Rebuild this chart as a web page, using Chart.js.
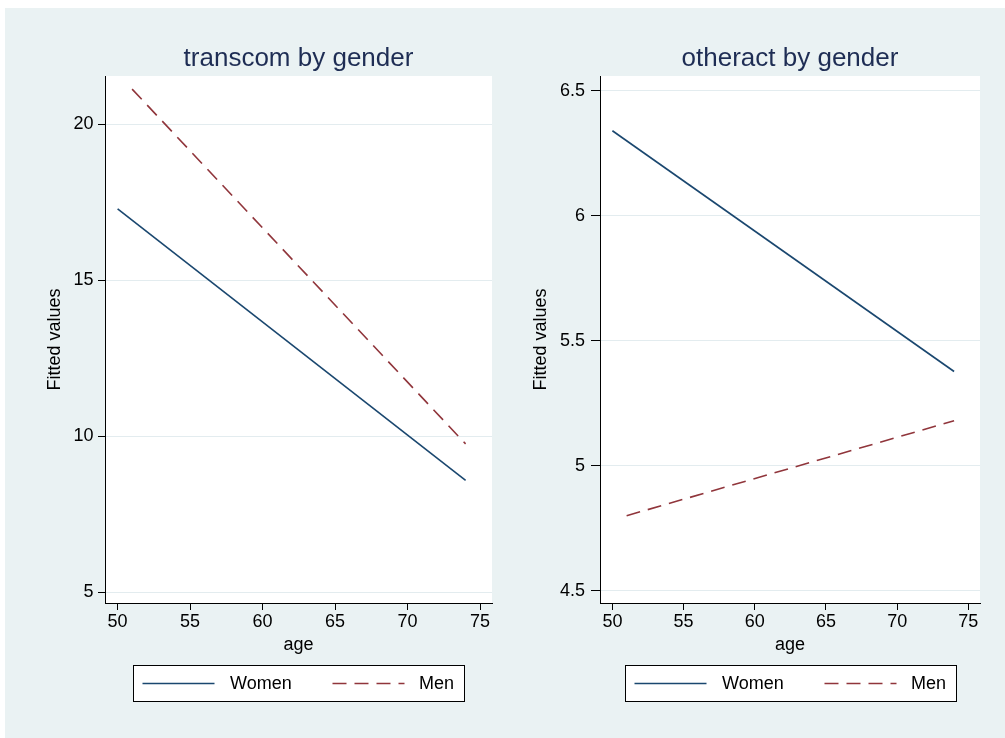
<!DOCTYPE html>
<html>
<head>
<meta charset="utf-8">
<script src="https://cdn.jsdelivr.net/npm/chart.js@4.4.1/dist/chart.umd.min.js"></script>
<style>
html,body{margin:0;padding:0;background:#ffffff;width:1005px;height:738px;overflow:hidden;}
#bg{position:absolute;left:5px;top:8px;width:1000px;height:730px;background:#eaf2f3;}
canvas{position:absolute;top:8px;}
#c1{left:5px;}
#c2{left:500px;}
</style>
</head>
<body>
<div id="bg"></div>
<canvas id="c1" width="495" height="730"></canvas>
<canvas id="c2" width="505" height="730"></canvas>
<script>
// ---- data ----
const seriesNames = ["Women", "Men"];
const xTicks = [50, 55, 60, 65, 70, 75];

// transcom by gender
const transWomenAge = [50, 74];
const transWomenFit = [17.28, 8.58];
const transMenAge = [51, 74];
const transMenFit = [21.12, 9.75];
const transYTicks = [5, 10, 15, 20];

// otheract by gender
const otherWomenAge = [50, 74];
const otherWomenFit = [6.34, 5.377];
const otherMenAge = [51, 74];
const otherMenFit = [4.80, 5.18];
const otherYTicks = [4.5, 5, 5.5, 6, 6.5];

const FONT = "'Liberation Sans', Arial, Helvetica, sans-serif";
Chart.defaults.font.family = FONT;
Chart.defaults.color = '#000';

function pts(xs, ys) { return xs.map((x, i) => ({x: x, y: ys[i]})); }

const plotBg = {
  id: 'plotBg',
  beforeDraw(chart) {
    const {ctx, chartArea: a} = chart;
    ctx.save();
    ctx.fillStyle = '#ffffff';
    ctx.fillRect(a.left, a.top, a.right - a.left, a.bottom - a.top);
    ctx.restore();
  }
};

const boxLegend = {
  id: 'boxLegend',
  afterDraw(chart, args, opts) {
    const {ctx, chartArea: a} = chart;
    const cx = (a.left + a.right) / 2;
    const x0 = Math.round(cx - opts.width / 2) + 0.5;
    const y0 = opts.top + 0.5;
    ctx.save();
    ctx.fillStyle = '#ffffff';
    ctx.fillRect(x0, y0, opts.width, opts.height);
    ctx.strokeStyle = '#000';
    ctx.lineWidth = 1;
    ctx.strokeRect(x0, y0, opts.width, opts.height);
    const cy = y0 + opts.height / 2;
    chart.data.datasets.forEach((ds, i) => {
      const it = opts.items[i];
      ctx.strokeStyle = ds.borderColor;
      ctx.lineWidth = ds.borderWidth;
      ctx.setLineDash(ds.borderDash || []);
      ctx.beginPath();
      ctx.moveTo(x0 + it.l0, cy);
      ctx.lineTo(x0 + it.l1, cy);
      ctx.stroke();
      ctx.setLineDash([]);
      ctx.fillStyle = '#000';
      ctx.font = '18px ' + FONT;
      ctx.textBaseline = 'middle';
      ctx.textAlign = 'left';
      ctx.fillText(ds.label, x0 + it.tx, cy + 1);
    });
    ctx.restore();
  }
};

function makeChart(id, cfg) {
  return new Chart(document.getElementById(id), {
    type: 'scatter',
    data: {
      datasets: [
        {label: seriesNames[0], data: pts(cfg.wAge, cfg.wFit), showLine: true, pointRadius: 0,
         borderColor: '#1a476f', borderWidth: 1.6, borderDash: []},
        {label: seriesNames[1], data: pts(cfg.mAge, cfg.mFit), showLine: true, pointRadius: 0,
         borderColor: '#90353b', borderWidth: 1.6, borderDash: [14, 8]}
      ]
    },
    options: {
      responsive: false,
      animation: false,
      layout: {padding: {left: 0, right: cfg.padRight, top: 0, bottom: 75}},
      plugins: {
        legend: {display: false},
        tooltip: {enabled: false},
        title: {
          display: true, text: cfg.title, fullSize: false,
          color: '#1e2d54', font: {size: 26, weight: 'normal'},
          padding: {top: 35.4, bottom: 1.4}
        },
        boxLegend: {
          width: 331, height: 36, top: 657,
          items: [{l0: 9, l1: 81, tx: 96.5}, {l0: 199, l1: 271, tx: 285.5}]
        }
      },
      scales: {
        x: {
          type: 'linear', min: 49.13, max: 75.82,
          afterBuildTicks: s => { s.ticks = xTicks.map(v => ({value: v})); },
          afterFit: s => { s.height = 60; },
          grid: {drawOnChartArea: false, drawTicks: true, tickLength: 7, tickColor: '#000'},
          border: {display: true, color: '#000', width: 1},
          ticks: {font: {size: 18}, color: '#000', padding: 1, maxRotation: 0},
          title: {display: true, text: 'age', font: {size: 18}, color: '#000', padding: {top: 0, bottom: 7.5}}
        },
        y: {
          type: 'linear', min: cfg.yMin, max: cfg.yMax,
          afterBuildTicks: s => { s.ticks = cfg.yTicks.map(v => ({value: v})); },
          afterFit: s => { s.width = 100; },
          grid: {color: '#e3ecef', lineWidth: 1, drawTicks: true, tickLength: cfg.tickLen, tickColor: '#000'},
          border: {display: true, color: '#000', width: 1},
          ticks: {font: {size: 18}, color: '#000', padding: cfg.tickPad, callback: v => String(v)},
          title: {display: true, text: 'Fitted values', font: {size: 18}, color: '#000', padding: {top: cfg.titlePad, bottom: 0}}
        }
      }
    },
    plugins: [plotBg, boxLegend]
  });
}

makeChart('c1', {
  title: 'transcom by gender',
  wAge: transWomenAge, wFit: transWomenFit, mAge: transMenAge, mFit: transMenFit,
  yMin: 4.65, yMax: 21.54, yTicks: transYTicks,
  padRight: 8, tickLen: 7, tickPad: 4.5, titlePad: 39
});
makeChart('c2', {
  title: 'otheract by gender',
  wAge: otherWomenAge, wFit: otherWomenFit, mAge: otherMenAge, mFit: otherMenFit,
  yMin: 4.451, yMax: 6.559, yTicks: otherYTicks,
  padRight: 25, tickLen: 9, tickPad: 6, titlePad: 30
});
</script>
</body>
</html>
